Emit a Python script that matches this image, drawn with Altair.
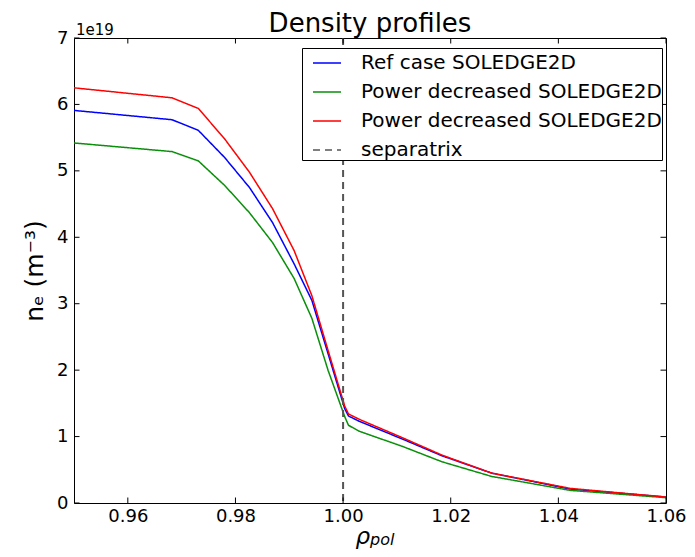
import altair as alt
import pandas as pd

# rho_pol grid
rho = [0.9500, 0.9682, 0.9731, 0.9780, 0.9826, 0.9869, 0.9909, 0.9942, 0.9972,
       1.0003, 1.0010, 1.0030, 1.0111, 1.0184, 1.0276, 1.0422, 1.0600]
# densities in units of 1e19 m^-3
ne_ref = [5.91, 5.77, 5.61, 5.20, 4.75, 4.22, 3.60, 3.05, 2.25,
          1.42, 1.31, 1.23, 0.96, 0.71, 0.45, 0.21, 0.09]
ne_green = [5.42, 5.29, 5.15, 4.78, 4.37, 3.92, 3.38, 2.78, 2.00,
            1.30, 1.17, 1.08, 0.85, 0.62, 0.40, 0.19, 0.08]
ne_red = [6.25, 6.10, 5.94, 5.48, 4.98, 4.43, 3.80, 3.12, 2.30,
          1.46, 1.34, 1.26, 0.98, 0.72, 0.45, 0.22, 0.09]
separatrix_rho = [1.0]

x_ticks = [0.96, 0.98, 1.00, 1.02, 1.04, 1.06]
y_ticks = [0, 1, 2, 3, 4, 5, 6, 7]

series_names = ["Ref case SOLEDGE2D", "Power decreased SOLEDGE2D",
                "Power decreased SOLEDGE2D ", "separatrix"]
colors = ["#0000ff", "#0a8f0a", "#ff0000", "#555555"]
dashes = [[1, 0], [1, 0], [1, 0], [7, 5]]

FONT = "DejaVu Sans"
W, H = 592, 465

rows = []
for name, vals in zip(series_names[:3], [ne_ref, ne_green, ne_red]):
    for r, v in zip(rho, vals):
        rows.append({"series": name, "rho": r, "ne": v})
df = pd.DataFrame(rows)
df_sep = pd.DataFrame({"series": ["separatrix"], "rho": separatrix_rho})
df_xt = pd.DataFrame({"rho": x_ticks})
df_yt = pd.DataFrame({"ne": y_ticks})

xscale = alt.Scale(domain=[0.95, 1.06], nice=False, zero=False)
yscale = alt.Scale(domain=[0, 7], nice=False, zero=False)

xaxis = alt.Axis(values=x_ticks, format=".2f", grid=False, ticks=False, domain=False,
                 labelFontSize=18, labelPadding=4, labelFlush=False, labelOverlap=False,
                 title=None)
yaxis = alt.Axis(values=y_ticks, format="d", grid=False, ticks=False, domain=False,
                 labelFontSize=18, labelPadding=6, labelFlush=False, labelOverlap=False,
                 title="nₑ (m⁻³)", titleFontSize=25, titleFontWeight="normal",
                 titlePadding=9)

legend = alt.Legend(orient="none", legendX=228, legendY=10, title=None,
                    strokeColor="black", fillColor="white", padding=0,
                    labelFontSize=20, labelFont=FONT, labelColor="black",
                    symbolType="stroke", symbolSize=784, symbolStrokeWidth=1.5,
                    rowPadding=4, labelOffset=19, symbolOffset=10, labelLimit=0,
                    labelExpr="datum.label + '\u00a0'")

color = alt.Color("series:N", scale=alt.Scale(domain=series_names, range=colors), legend=legend)
dash = alt.StrokeDash("series:N", scale=alt.Scale(domain=series_names, range=dashes), legend=legend)

lines = alt.Chart(df).mark_line(strokeWidth=1.5, clip=True).encode(
    x=alt.X("rho:Q", scale=xscale, axis=xaxis),
    y=alt.Y("ne:Q", scale=yscale, axis=yaxis),
    color=color, strokeDash=dash, order="rho:Q",
)
sep = alt.Chart(df_sep).mark_rule(strokeWidth=2).encode(
    x=alt.X("rho:Q", scale=xscale), color=color, strokeDash=dash,
)

tl = 5.5
tick_bottom = alt.Chart(df_xt).mark_rule(color="black", strokeWidth=1).encode(
    x=alt.X("rho:Q", scale=xscale), y=alt.value(H), y2=alt.value(H - tl))
tick_top = alt.Chart(df_xt).mark_rule(color="black", strokeWidth=1).encode(
    x=alt.X("rho:Q", scale=xscale), y=alt.value(0), y2=alt.value(tl))
tick_left = alt.Chart(df_yt).mark_rule(color="black", strokeWidth=1).encode(
    y=alt.Y("ne:Q", scale=yscale), x=alt.value(0), x2=alt.value(tl))
tick_right = alt.Chart(df_yt).mark_rule(color="black", strokeWidth=1).encode(
    y=alt.Y("ne:Q", scale=yscale), x=alt.value(W), x2=alt.value(W - tl))

offset_txt = alt.Chart(pd.DataFrame({"label": ["1e19"]})).mark_text(
    align="left", baseline="alphabetic", fontSize=15, font=FONT, color="black"
).encode(x=alt.value(2), y=alt.value(-3), text="label:N")

# x-axis title: rho with subscript "pol"
xt_main = alt.Chart(pd.DataFrame({"t": ["ρ"]})).mark_text(
    align="right", baseline="alphabetic", fontSize=23, font=FONT,
    fontStyle="italic", color="black"
).encode(x=alt.value(W / 2), y=alt.value(506), text="t:N")
xt_sub = alt.Chart(pd.DataFrame({"t": ["pol"]})).mark_text(
    align="left", baseline="alphabetic", fontSize=16, font=FONT,
    fontStyle="italic", color="black"
).encode(x=alt.value(W / 2), y=alt.value(507), text="t:N")

chart = alt.layer(
    lines, sep, tick_bottom, tick_top, tick_left, tick_right, offset_txt,
    xt_main, xt_sub
).properties(
    width=W, height=H,
    title=alt.TitleParams("Density profiles", fontSize=26, font=FONT,
                          fontWeight="normal", anchor="middle", offset=6,
                          dy=20, color="black"),
    autosize=alt.AutoSizeParams(type="none"),
    padding={"left": 66, "top": 30, "right": 21, "bottom": 46},
).configure_axis(
    labelFont=FONT, titleFont=FONT, labelColor="black", titleColor="black",
).configure_view(
    stroke="black", strokeWidth=1,
)

chart.save("out.html", embed_options={"renderer": "svg", "actions": False})
